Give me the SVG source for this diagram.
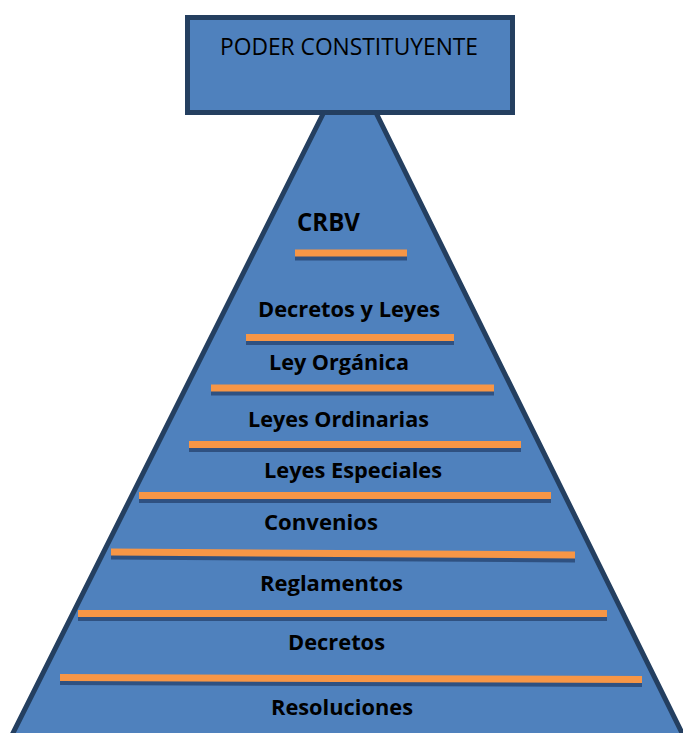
<svg xmlns="http://www.w3.org/2000/svg" width="683" height="733" viewBox="0 0 683 733">
  <style>
    .shape { fill: #4F81BD; stroke: #243F60; stroke-width: 5; stroke-linejoin: miter; }
    .bar { stroke: #F79646; stroke-width: 7; }
    .shadow { stroke: #2F5181; stroke-width: 7; }
    .lbl { font-family: "Open Sans", "Liberation Sans", sans-serif; font-weight: bold; font-size: 21px; fill: #000; text-anchor: middle; }
    .title { font-family: "Open Sans", "Liberation Sans", sans-serif; font-size: 24px; fill: #000; text-anchor: middle; }
  </style>
  <rect width="683" height="733" fill="#FFFFFF"/>
  <g id="piramide">
    <polygon class="shape" points="350,60 685.5,740 9.5,740" stroke-width="4"/>
  </g>
  <g id="poder-constituyente">
    <rect class="shape" x="187.5" y="17.5" width="325" height="95"/>
    <text class="title" x="349" y="55" textLength="258" lengthAdjust="spacingAndGlyphs">PODER CONSTITUYENTE</text>
  </g>
  <g id="separadores">
    <line class="shadow" x1="295" y1="257" x2="407" y2="257"/>
    <line class="bar" x1="295" y1="253" x2="407" y2="253"/>
    <line class="shadow" x1="246" y1="341.5" x2="454" y2="341.5"/>
    <line class="bar" x1="246" y1="337.5" x2="454" y2="337.5"/>
    <line class="shadow" x1="211" y1="392" x2="494" y2="392"/>
    <line class="bar" x1="211" y1="388" x2="494" y2="388"/>
    <line class="shadow" x1="189" y1="448.5" x2="521" y2="448.5"/>
    <line class="bar" x1="189" y1="444.5" x2="521" y2="444.5"/>
    <line class="shadow" x1="139" y1="499.5" x2="551" y2="499.5"/>
    <line class="bar" x1="139" y1="495.5" x2="551" y2="495.5"/>
    <line class="shadow" x1="111" y1="556" x2="575" y2="559"/>
    <line class="bar" x1="111" y1="552" x2="575" y2="555"/>
    <line class="shadow" x1="78" y1="617.5" x2="607" y2="617.5"/>
    <line class="bar" x1="78" y1="613.5" x2="607" y2="613.5"/>
    <line class="shadow" x1="60" y1="681.5" x2="642" y2="683.5"/>
    <line class="bar" x1="60" y1="677.5" x2="642" y2="679.5"/>
  </g>
  <g id="crbv">
    <text class="lbl" x="328.5" y="231" textLength="63" lengthAdjust="spacingAndGlyphs" style="font-size:25px">CRBV</text>
  </g>
  <g id="decretos-y-leyes">
    <text class="lbl" x="349" y="317" textLength="182" lengthAdjust="spacingAndGlyphs">Decretos y Leyes</text>
  </g>
  <g id="ley-organica">
    <text class="lbl" x="339" y="370" textLength="140" lengthAdjust="spacingAndGlyphs">Ley Orgánica</text>
  </g>
  <g id="leyes-ordinarias">
    <text class="lbl" x="338.5" y="427" textLength="181" lengthAdjust="spacingAndGlyphs">Leyes Ordinarias</text>
  </g>
  <g id="leyes-especiales">
    <text class="lbl" x="353" y="478" textLength="178" lengthAdjust="spacingAndGlyphs">Leyes Especiales</text>
  </g>
  <g id="convenios">
    <text class="lbl" x="321" y="530" textLength="114" lengthAdjust="spacingAndGlyphs">Convenios</text>
  </g>
  <g id="reglamentos">
    <text class="lbl" x="331.5" y="591" textLength="143" lengthAdjust="spacingAndGlyphs">Reglamentos</text>
  </g>
  <g id="decretos">
    <text class="lbl" x="336.5" y="650" textLength="97" lengthAdjust="spacingAndGlyphs">Decretos</text>
  </g>
  <g id="resoluciones">
    <text class="lbl" x="342" y="715" textLength="142" lengthAdjust="spacingAndGlyphs">Resoluciones</text>
  </g>
</svg>
